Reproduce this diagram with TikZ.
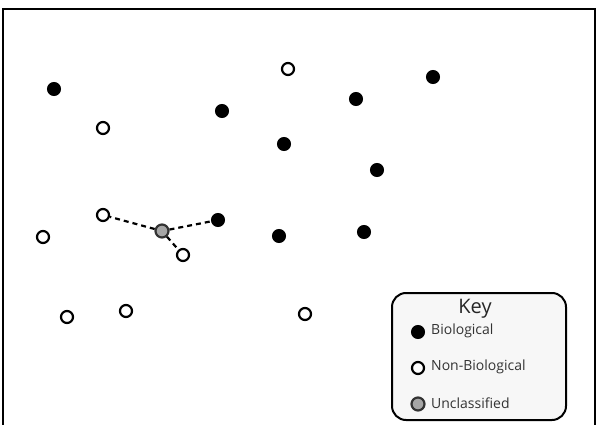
\documentclass[tikz,border=0pt]{standalone}
\usepackage{fontspec}
\setmainfont{Open Sans}
\tikzset{
  bio/.style={circle, fill=black, draw=black, line width=1pt, inner sep=0pt, minimum size=13pt},
  nonbio/.style={circle, fill=white, draw=black, line width=2.2pt, inner sep=0pt, minimum size=12pt},
  unclass/.style={circle, fill=gray!70, draw=black!80, line width=2.2pt, inner sep=0pt, minimum size=13pt},
  link/.style={line width=2.2pt, dash pattern=on 5pt off 4pt},
  keytext/.style={anchor=west, inner sep=0pt, font=\fontsize{14}{16}\selectfont, text=black!80}
}
\begin{document}
\begin{tikzpicture}[x=1pt, y=-1pt]
		\useasboundingbox (0,0) rectangle (597,425);
		\draw[line width=2.2pt] (3,426) -- (3,9) -- (595,9) -- (595,426);
		
		\node[bio] (b1) at (54,89) {};
		\node[bio] (b2) at (222,111) {};
		\node[bio] (b3) at (356,99) {};
		\node[bio] (b4) at (433,77) {};
		\node[bio] (b5) at (284,144) {};
		\node[bio] (b6) at (377,170) {};
		\node[bio] (b7) at (218,220) {};
		\node[bio] (b8) at (279,236) {};
		\node[bio] (b9) at (364,232) {};
		
		\node[nonbio] (n1) at (288,69) {};
		\node[nonbio] (n2) at (103,128) {};
		\node[nonbio] (n3) at (103,215) {};
		\node[nonbio] (n4) at (43,237) {};
		\node[nonbio] (n5) at (183,255) {};
		\node[nonbio] (n6) at (67,317) {};
		\node[nonbio] (n7) at (126,311) {};
		\node[nonbio] (n8) at (305,314) {};
		
		\node[unclass] (u1) at (162,231) {};
		\draw[link] (u1) -- (n3);
		\draw[link] (u1) -- (b7);
		\draw[link] (u1) -- (n5);
		
		% key
		\draw[line width=2pt, rounded corners=14pt, fill=black!3] (392,293) rectangle (566,420);
		\node[font=\fontsize{20}{22}\selectfont, text=black!85] (keytitle) at (475,309) {Key};
		\node[bio] (kb) at (418,332) {};
		\node[keytext] at (431,331) {Biological};
		\node[nonbio] (kn) at (418,368) {};
		\node[keytext] at (431,367) {Non-Biological};
		\node[unclass] (ku) at (418,404) {};
		\node[keytext] at (431,403) {Unclassified};
		\end{tikzpicture}
\end{document}
